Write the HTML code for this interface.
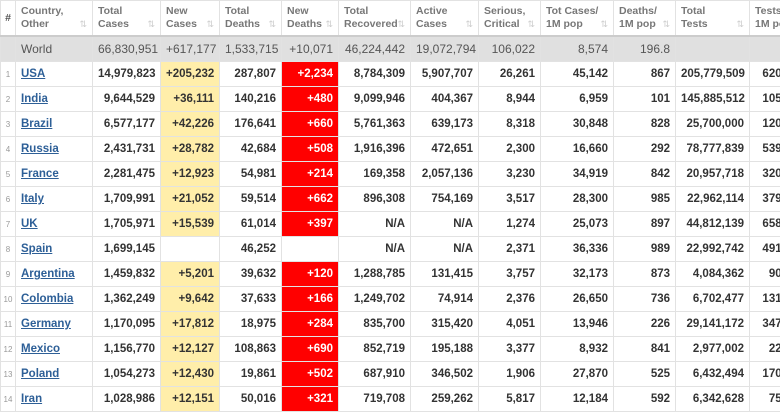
<!DOCTYPE html>
<html><head><style>
body{margin:0;background:#fff;width:780px;height:405px;overflow:hidden;}
table{border-collapse:collapse;table-layout:fixed;width:810px;font-family:"Liberation Sans",sans-serif;font-size:11.5px;}
td,th{border:1px solid #e2e2e2;padding:0 5px;white-space:nowrap;overflow:hidden;}
th{height:34px;font-weight:bold;color:#777;text-align:left;vertical-align:middle;font-size:10.5px;line-height:13px;position:relative;border-bottom:2px solid #ccc;}
th span.s{position:absolute;right:5px;top:17px;color:#ccc;font-size:9px;font-weight:normal;}
td{height:24px;text-align:right;font-weight:bold;color:#333;}
tr.w td{background:#e0e0e0;font-weight:normal;color:#555;font-size:12px;}
td.n{font-size:8px;color:#999;font-weight:normal;text-align:center;padding:0;}
td.c{text-align:left;}
td.c a{color:#2d5f97;text-decoration:underline;}
.y{background:#ffeeaa;}
.r{background:#ff0000;color:#fff;}
</style></head><body>
<table>
<colgroup><col style="width:15px"><col style="width:77px"><col style="width:68px"><col style="width:59px"><col style="width:62px"><col style="width:57px"><col style="width:72px"><col style="width:68px"><col style="width:62px"><col style="width:73px"><col style="width:62px"><col style="width:74px"><col style="width:60px"></colgroup>
<tr><th style="padding:0;text-align:center;color:#555;font-weight:bold">#</th><th>Country,<br>Other<span class="s">⇅</span></th><th>Total<br>Cases<span class="s">⇅</span></th><th>New<br>Cases<span class="s">⇅</span></th><th>Total<br>Deaths<span class="s">⇅</span></th><th>New<br>Deaths<span class="s">⇅</span></th><th>Total<br>Recovered<span class="s">⇅</span></th><th>Active<br>Cases<span class="s">⇅</span></th><th>Serious,<br>Critical<span class="s">⇅</span></th><th>Tot Cases/<br>1M pop<span class="s">⇅</span></th><th>Deaths/<br>1M pop<span class="s">⇅</span></th><th>Total<br>Tests<span class="s">⇅</span></th><th>Tests/<br>1M pop<span class="s">⇅</span></th></tr>
<tr class="w"><td class="n"></td><td class="c">World</td><td>66,830,951</td><td>+617,177</td><td>1,533,715</td><td>+10,071</td><td>46,224,442</td><td>19,072,794</td><td>106,022</td><td>8,574</td><td>196.8</td><td></td><td></td></tr>
<tr><td class="n">1</td><td class="c"><a>USA</a></td><td>14,979,823</td><td class="y">+205,232</td><td>287,807</td><td class="r">+2,234</td><td>8,784,309</td><td>5,907,707</td><td>26,261</td><td>45,142</td><td>867</td><td>205,779,509</td><td>620,897</td></tr>
<tr><td class="n">2</td><td class="c"><a>India</a></td><td>9,644,529</td><td class="y">+36,111</td><td>140,216</td><td class="r">+480</td><td>9,099,946</td><td>404,367</td><td>8,944</td><td>6,959</td><td>101</td><td>145,885,512</td><td>105,270</td></tr>
<tr><td class="n">3</td><td class="c"><a>Brazil</a></td><td>6,577,177</td><td class="y">+42,226</td><td>176,641</td><td class="r">+660</td><td>5,761,363</td><td>639,173</td><td>8,318</td><td>30,848</td><td>828</td><td>25,700,000</td><td>120,538</td></tr>
<tr><td class="n">4</td><td class="c"><a>Russia</a></td><td>2,431,731</td><td class="y">+28,782</td><td>42,684</td><td class="r">+508</td><td>1,916,396</td><td>472,651</td><td>2,300</td><td>16,660</td><td>292</td><td>78,777,839</td><td>539,712</td></tr>
<tr><td class="n">5</td><td class="c"><a>France</a></td><td>2,281,475</td><td class="y">+12,923</td><td>54,981</td><td class="r">+214</td><td>169,358</td><td>2,057,136</td><td>3,230</td><td>34,919</td><td>842</td><td>20,957,718</td><td>320,772</td></tr>
<tr><td class="n">6</td><td class="c"><a>Italy</a></td><td>1,709,991</td><td class="y">+21,052</td><td>59,514</td><td class="r">+662</td><td>896,308</td><td>754,169</td><td>3,517</td><td>28,300</td><td>985</td><td>22,962,114</td><td>379,015</td></tr>
<tr><td class="n">7</td><td class="c"><a>UK</a></td><td>1,705,971</td><td class="y">+15,539</td><td>61,014</td><td class="r">+397</td><td>N/A</td><td>N/A</td><td>1,274</td><td>25,073</td><td>897</td><td>44,812,139</td><td>658,610</td></tr>
<tr><td class="n">8</td><td class="c"><a>Spain</a></td><td>1,699,145</td><td></td><td>46,252</td><td></td><td>N/A</td><td>N/A</td><td>2,371</td><td>36,336</td><td>989</td><td>22,992,742</td><td>491,707</td></tr>
<tr><td class="n">9</td><td class="c"><a>Argentina</a></td><td>1,459,832</td><td class="y">+5,201</td><td>39,632</td><td class="r">+120</td><td>1,288,785</td><td>131,415</td><td>3,757</td><td>32,173</td><td>873</td><td>4,084,362</td><td>90,014</td></tr>
<tr><td class="n">10</td><td class="c"><a>Colombia</a></td><td>1,362,249</td><td class="y">+9,642</td><td>37,633</td><td class="r">+166</td><td>1,249,702</td><td>74,914</td><td>2,376</td><td>26,650</td><td>736</td><td>6,702,477</td><td>131,120</td></tr>
<tr><td class="n">11</td><td class="c"><a>Germany</a></td><td>1,170,095</td><td class="y">+17,812</td><td>18,975</td><td class="r">+284</td><td>835,700</td><td>315,420</td><td>4,051</td><td>13,946</td><td>226</td><td>29,141,172</td><td>347,310</td></tr>
<tr><td class="n">12</td><td class="c"><a>Mexico</a></td><td>1,156,770</td><td class="y">+12,127</td><td>108,863</td><td class="r">+690</td><td>852,719</td><td>195,188</td><td>3,377</td><td>8,932</td><td>841</td><td>2,977,002</td><td>22,987</td></tr>
<tr><td class="n">13</td><td class="c"><a>Poland</a></td><td>1,054,273</td><td class="y">+12,430</td><td>19,861</td><td class="r">+502</td><td>687,910</td><td>346,502</td><td>1,906</td><td>27,870</td><td>525</td><td>6,432,494</td><td>170,030</td></tr>
<tr><td class="n">14</td><td class="c"><a>Iran</a></td><td>1,028,986</td><td class="y">+12,151</td><td>50,016</td><td class="r">+321</td><td>719,708</td><td>259,262</td><td>5,817</td><td>12,184</td><td>592</td><td>6,342,628</td><td>75,085</td></tr>
</table>
</body></html>
